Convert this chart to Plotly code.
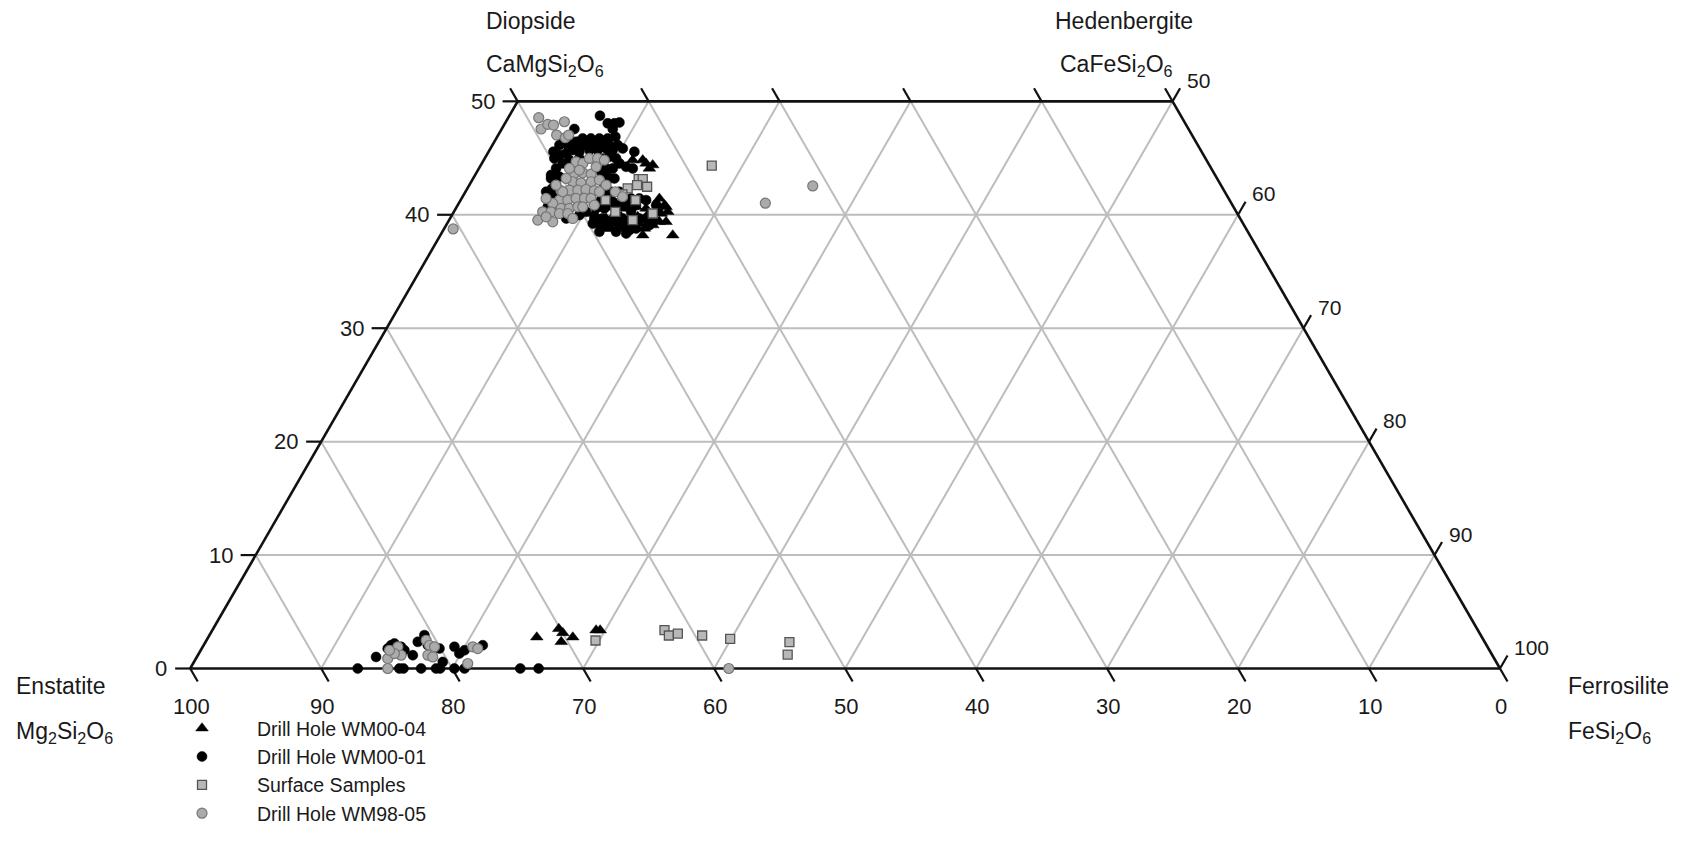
import numpy as np
import plotly.graph_objects as go

# ---------------- data (Wo = CaSiO3 %, Fs = FeSiO3 %; En = 100 - Wo - Fs) ----------------
wm0004_wo = [44.82, 44.82, 44.53, 44.38, 40.11, 39.09, 38.79, 39.23, 38.79, 38.94, 38.79, 39.09, 39.23,
             39.53, 39.38, 39.38, 38.20, 38.20, 41.44, 40.85, 40.26, 40.56, 40.70, 40.56, 40.70, 39.67,
             39.09, 39.67, 39.82, 39.82, 40.41, 40.11, 39.53, 44.09, 39.23, 39.23, 39.82, 38.79, 40.70,
             2.76, 3.50, 3.14, 2.35, 2.76, 3.38, 3.38]
wm0004_fs = [11.37, 12.14, 12.54, 13.12, 10.80, 11.57, 12.23, 11.75, 12.74, 13.30, 13.88, 14.24, 14.68,
             15.17, 16.13, 16.64, 15.45, 17.74, 15.10, 15.78, 16.33, 14.52, 13.69, 13.00, 12.16, 11.92,
             15.77, 13.70, 12.98, 12.35, 15.37, 15.90, 11.48, 13.01, 12.65, 13.53, 14.26, 15.28, 15.98,
             25.08, 26.39, 26.88, 27.15, 27.83, 29.30, 29.61]

wm0001_wo = [48.73, 48.06, 48.06, 48.14, 47.56, 46.88, 47.56, 46.44, 45.56, 46.44, 46.44, 46.50, 45.85,
             45.56, 45.26, 45.41, 45.70, 45.56, 45.70, 45.70, 45.85, 45.70, 44.53, 44.82, 45.11, 44.97,
             44.53, 44.23, 44.09, 44.09, 44.09, 44.09, 43.35, 42.62, 41.88, 41.44, 40.70, 39.67, 39.97,
             40.26, 41.15, 42.03, 42.91, 43.79, 43.35, 40.56, 40.56, 41.15, 40.85, 39.67, 40.26, 38.79,
             39.38, 38.64, 39.97, 40.85, 41.29, 39.53, 38.50, 38.35, 39.38, 39.23, 38.50, 40.70, 42.03,
             43.50, 42.32,
             46.73, 46.73, 46.73, 46.73, 46.73, 46.73,
             46.14, 46.14, 46.14, 46.14, 46.14, 46.14, 46.14, 46.14,
             44.97, 44.97, 44.97, 44.97, 44.97,
             43.20, 43.20, 43.20, 42.03, 42.03, 42.03, 40.85, 40.85, 40.85,
             39.67, 39.67, 39.67, 39.67, 39.67, 39.09, 39.09, 39.09, 39.09, 41.44, 41.44,
             0.00, 1.02, 1.76, 2.05, 2.20, 1.76, 1.91, 1.61, 1.17, 2.35, 2.94, 2.05, 1.76, 0.58, 1.91,
             1.32, 1.61, 2.05, 0.00, 0.00, 0.00, 0.00, 0.00, 0.00, 0.00, 0.00, 0.00]
wm0001_fs = [6.92, 7.85, 8.36, 8.70, 8.48, 9.02, 5.55, 6.29, 4.95, 7.00, 7.64, 8.30, 10.10,
             11.13, 5.56, 5.99, 6.35, 6.93, 7.63, 8.26, 8.83, 9.41, 6.18, 6.54, 9.45, 10.03,
             10.51, 11.17, 11.74, 10.22, 9.71, 5.89, 6.52, 6.62, 6.87, 6.83, 7.71, 8.87, 9.73,
             10.09, 10.67, 10.74, 10.04, 9.48, 10.20, 10.71, 11.34, 11.69, 12.35, 13.19, 13.53, 14.65,
             12.44, 14.21, 15.08, 15.15, 14.16, 15.68, 13.26, 14.11, 14.35, 11.12, 11.99, 6.95, 6.16,
             5.80, 6.47,
             5.07, 5.58, 6.60, 7.23, 7.87, 8.51,
             5.12, 5.75, 6.26, 6.90, 7.66, 8.30, 8.93, 9.57,
             5.32, 7.22, 7.99, 8.62, 9.13,
             5.95, 10.40, 10.79, 6.40, 11.11, 11.75, 11.57, 12.85, 13.61,
             11.02, 11.65, 12.67, 14.45, 14.96, 12.20, 13.22, 14.11, 15.51, 12.94, 13.57,
             12.79, 13.68, 14.20, 14.31, 14.49, 14.84, 15.14, 15.55, 16.41, 16.20, 16.41, 17.12, 18.15, 18.99, 19.22,
             19.89, 20.14, 21.31, 15.97, 16.28, 17.63, 18.77, 19.08, 20.17, 20.94, 25.20, 26.60]

surface_wo = [44.34, 43.14, 43.14, 42.62, 42.47, 42.32, 41.80, 41.29, 41.29, 40.26, 40.11, 39.53,
              2.47, 3.38, 2.91, 3.08, 2.91, 2.61, 2.32, 1.23]
surface_fs = [17.65, 12.67, 12.98, 12.81, 13.65, 12.24, 12.10, 11.06, 13.35, 12.33, 15.26, 14.02,
              29.71, 34.52, 35.09, 35.69, 37.63, 39.92, 44.59, 45.00]

wm9805_wo = [48.56, 47.56, 47.97, 47.91, 48.20, 47.03, 46.79, 47.03,
             43.64, 43.70, 43.59, 42.91, 42.82, 42.91, 43.06, 42.12, 42.17, 42.17, 42.23, 42.12,
             41.29, 41.29, 41.44, 41.44, 41.44, 41.00, 40.56, 40.56, 40.70, 40.26, 40.26, 40.11,
             40.11, 39.53, 39.38, 44.67, 44.53, 44.97, 44.97, 44.82, 43.94, 43.20, 42.03, 42.03,
             41.59, 40.85, 41.44, 42.62, 38.75, 41.02, 42.54,
             44.23, 44.09, 42.62, 42.03, 40.70, 39.67, 39.82,
             0.88, 0.00, 1.91, 1.17, 1.32, 2.49, 2.05, 1.17, 1.02, 1.91, 0.44, 1.91, 1.76, 1.61, 0.00]
wm9805_fs = [2.33, 3.01, 3.31, 3.78, 4.47, 4.46, 5.24, 5.38,
             7.51, 8.12, 8.81, 7.75, 8.43, 9.15, 9.71, 7.25, 7.87, 8.51, 9.10, 9.80,
             7.54, 8.18, 8.74, 9.38, 9.88, 7.18, 8.03, 8.67, 9.24, 6.78, 7.42, 8.13,
             8.77, 6.77, 7.99, 7.13, 7.71, 7.99, 8.62, 9.21, 7.74, 7.10, 7.42, 11.44,
             12.22, 10.43, 6.45, 6.62, 0.70, 23.40, 26.26,
             8.88, 6.91, 10.44, 10.23, 9.62, 9.37, 7.26,
             14.64, 15.08, 14.90, 15.52, 14.93, 16.77, 17.24, 17.56, 18.01, 17.70, 20.97, 20.62, 21.07, 14.41, 41.12]

wo_ticks = [0, 10, 20, 30, 40, 50]
en_ticks = [100, 90, 80, 70, 60, 50, 40, 30, 20, 10, 0]
fs_ticks = [50, 60, 70, 80, 90, 100]
grid_steps = [10, 20, 30, 40, 50, 60, 70, 80, 90]

# ---------------- geometry helpers ----------------
S3 = np.sqrt(3) / 2


def to_xy(wo, fs):
    wo = np.asarray(wo, float)
    fs = np.asarray(fs, float)
    return fs + wo / 2.0, wo * S3


def seg_trace(segs, color, width):
    xs, ys = [], []
    for (wo1, fs1), (wo2, fs2) in segs:
        x1, y1 = to_xy(wo1, fs1)
        x2, y2 = to_xy(wo2, fs2)
        xs += [float(x1), float(x2), None]
        ys += [float(y1), float(y2), None]
    return go.Scatter(x=xs, y=ys, mode="lines", line=dict(color=color, width=width),
                      hoverinfo="skip", showlegend=False)


fig = go.Figure()

# grid lines
grid = []
for w in grid_steps:
    if w < 50:
        grid.append(((w, 0), (w, 100 - w)))           # constant Wo
for f in grid_steps:
    grid.append(((0, f), (min(50, 100 - f), f)))      # constant Fs
for e in grid_steps:
    top = min(50, 100 - e)
    grid.append(((0, 100 - e), (top, 100 - e - top)))  # constant En
fig.add_trace(seg_trace(grid, "#bdbdbd", 2))

# frame
frame = [((0, 0), (50, 0)), ((50, 0), (50, 50)), ((50, 50), (0, 100)), ((0, 100), (0, 0))]
fig.add_trace(seg_trace(frame, "#111111", 2.6))

# ticks
L = 1.15
tx, ty = [], []


def add_tick(wo, fs, dx, dy):
    x, y = to_xy(wo, fs)
    tx.extend([float(x), float(x) + dx * L, None])
    ty.extend([float(y), float(y) + dy * L, None])


for w in wo_ticks:
    add_tick(w, 0, -1, 0)
for e in en_ticks:
    add_tick(0, 100 - e, 0.5, -S3)
    if e <= 50:
        add_tick(50, 50 - e, -0.5, S3)
for f in fs_ticks:
    add_tick(100 - f, f, 0.5, S3)
fig.add_trace(go.Scatter(x=tx, y=ty, mode="lines", line=dict(color="#111111", width=2.2),
                         hoverinfo="skip", showlegend=False))

# data series
series = [
    ("Drill Hole WM00-04", wm0004_wo, wm0004_fs,
     dict(symbol="triangle-up", size=11, color="#000000", line=dict(color="#000000", width=0.5))),
    ("Drill Hole WM00-01", wm0001_wo, wm0001_fs,
     dict(symbol="circle", size=10, color="#000000", line=dict(color="#000000", width=0.5))),
    ("Surface Samples", surface_wo, surface_fs,
     dict(symbol="square", size=9, color="#b8b8b8", line=dict(color="#555555", width=1.3))),
    ("Drill Hole WM98-05", wm9805_wo, wm9805_fs,
     dict(symbol="circle", size=10, color="#ababab", line=dict(color="#767676", width=1.2))),
]
for name, wo, fs, mk in series:
    x, y = to_xy(wo, fs)
    fig.add_trace(go.Scatter(x=x, y=y, mode="markers", name=name, marker=mk))

TXT = "#1a1a1a"
FONT = "Liberation Sans, Arial, sans-serif"
ann = []
for w in wo_ticks:
    x, y = to_xy(w, 0)
    ann.append(dict(x=float(x), y=float(y), xref="x", yref="y", text=str(w), showarrow=False,
                    xanchor="right", yanchor="middle", xshift=-21, font=dict(size=22, color=TXT)))
for e in en_ticks:
    x, y = to_xy(0, 100 - e)
    ann.append(dict(x=float(x), y=float(y), xref="x", yref="y", text=str(e), showarrow=False,
                    xanchor="center", yanchor="middle", xshift=1, yshift=-38, font=dict(size=22, color=TXT)))
for f in fs_ticks:
    x, y = to_xy(100 - f, f)
    ann.append(dict(x=float(x), y=float(y), xref="x", yref="y", text=str(f), showarrow=False,
                    xanchor="left", yanchor="middle", xshift=12, yshift=21, font=dict(size=21, color=TXT)))

OFF = 8  # page body margin
W, H = 1689 - 2 * OFF, 854 - 2 * OFF


def px_ann(px, py, text, size=23):
    return dict(x=(px - OFF) / W, y=1 - (py - OFF) / H, xref="paper", yref="paper", text=text,
                showarrow=False, xanchor="left", yanchor="middle", font=dict(size=size, color=TXT))


ann += [
    px_ann(484, 21, "Diopside"),
    px_ann(484, 66, "CaMgSi<sub>2</sub>O<sub>6</sub>"),
    px_ann(1053, 21, "Hedenbergite"),
    px_ann(1058, 66, "CaFeSi<sub>2</sub>O<sub>6</sub>"),
    px_ann(14, 686, "Enstatite"),
    px_ann(14, 732, "Mg<sub>2</sub>Si<sub>2</sub>O<sub>6</sub>"),
    px_ann(1566, 686, "Ferrosilite"),
    px_ann(1566, 732, "FeSi<sub>2</sub>O<sub>6</sub>"),
]

scale = 13.098
x0, y0 = 190.2 - OFF, 668.5 - OFF
fig.update_layout(
    width=W, height=H,
    margin=dict(l=0, r=0, t=0, b=0),
    paper_bgcolor="white", plot_bgcolor="white",
    font=dict(family=FONT, color=TXT),
    xaxis=dict(range=[-x0 / scale, (W - x0) / scale], visible=False, fixedrange=True),
    yaxis=dict(range=[-(H - y0) / scale, y0 / scale], visible=False, fixedrange=True),
    annotations=ann,
    showlegend=True,
    legend=dict(x=139 / W, y=1 - 701 / H, xanchor="left", yanchor="top",
                font=dict(size=19.5, color=TXT), bgcolor="rgba(0,0,0,0)",
                itemsizing="trace", itemwidth=100, tracegroupgap=0),
)

fig.write_html("out.html")
